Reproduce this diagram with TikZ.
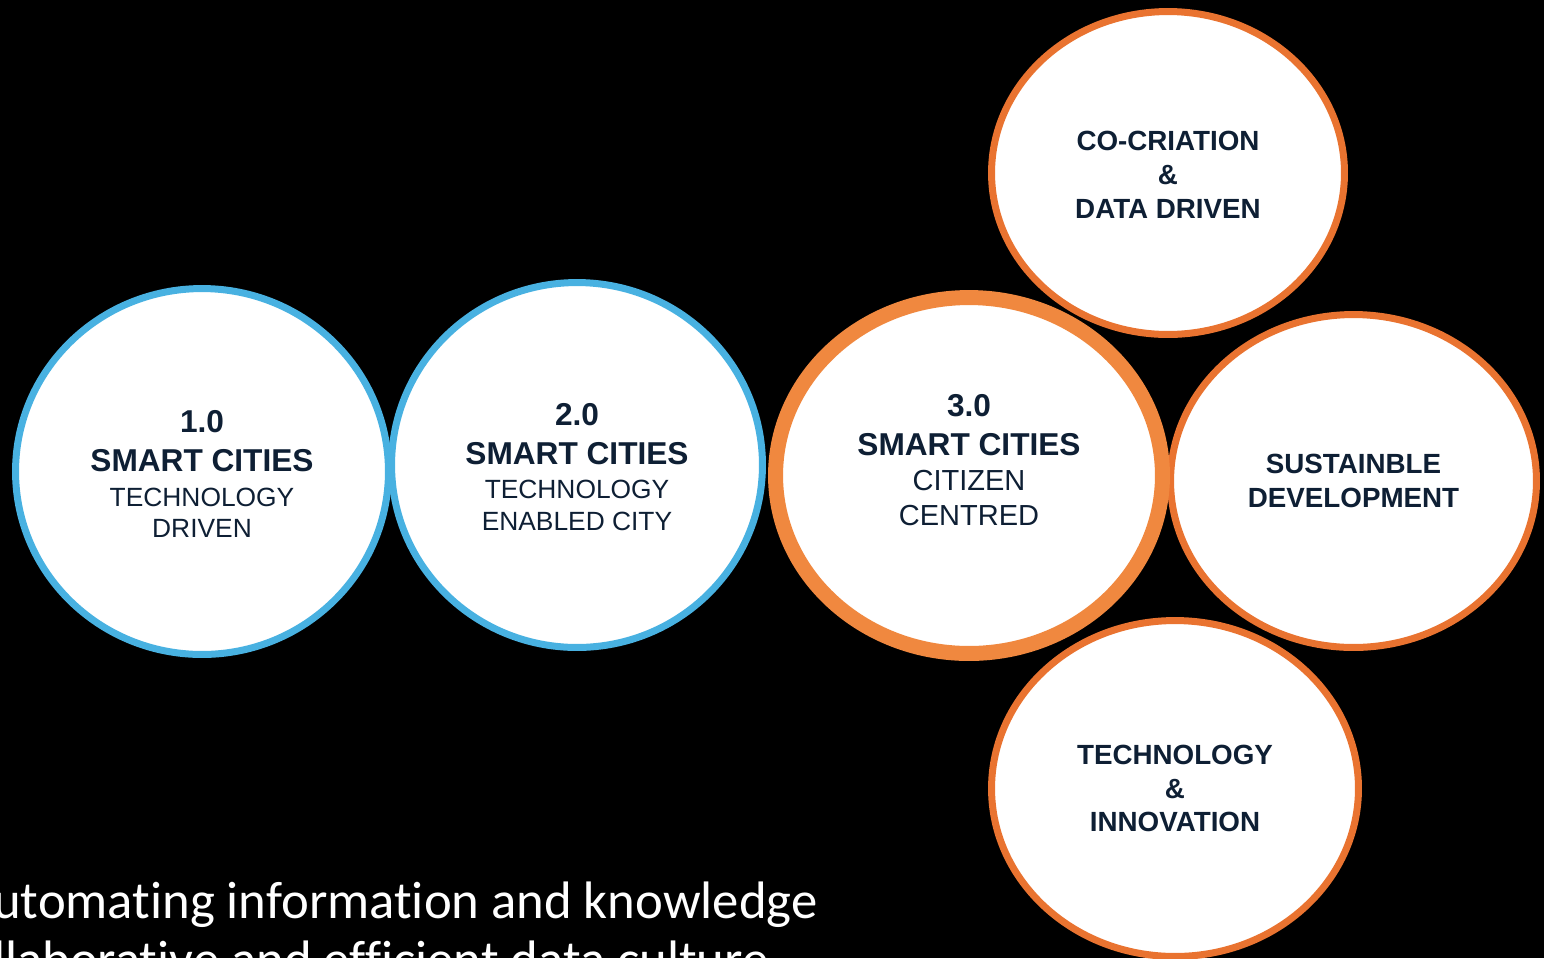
\documentclass[tikz,border=0pt]{standalone}
\usepackage{fontspec}
\setmainfont{Liberation Sans}
\newfontfamily\calibri[Ligatures={NoCommon,NoRare}]{Carlito}
\usetikzlibrary{shapes.geometric}
\definecolor{skyblue}{HTML}{48B1E1}
\definecolor{stageorange}{HTML}{F0883F}
\definecolor{satorange}{HTML}{E97330}
\definecolor{navy}{HTML}{0E1F34}
\newcommand{\ringhead}{\fontsize{18}{21.6}\selectfont\bfseries}
\tikzset{ring/.style={ellipse, draw=#1, fill=white, line width=0.14cm, inner sep=0pt},
         words/.style={align=center, text=navy, inner sep=0pt}}

\begin{document}
\begin{tikzpicture}[x=0.02cm, y=-0.02cm]
    \clip (0,0) rectangle (1544,958);
    \fill[black] (0,0) rectangle (1544,958);

    % the three around 3.0
    \node[ring=satorange, minimum width=7.06cm, minimum height=6.46cm] at (1168,173) (cocreation) {};
    \node[ring=satorange, minimum width=7.32cm, minimum height=6.66cm] at (1353.5,481) (sustain) {};
    \node[ring=satorange, minimum width=7.34cm, minimum height=6.72cm] at (1175,788.5) (techinno) {};

    % the stages
    \node[ring=skyblue, minimum width=7.46cm, minimum height=7.32cm] at (202,471.5) (stage1) {};
    \node[ring=skyblue, minimum width=7.42cm, minimum height=7.30cm] at (577,465) (stage2) {};
    \node[ring=stageorange, line width=0.3cm, minimum width=7.74cm, minimum height=7.12cm] at (969,475.5) (stage3) {};

    \node[words, font=\fontsize{15}{18}\selectfont] at ([yshift=-0.05cm]stage1) (text1)
        {\ringhead 1.0\\[4.1pt] \ringhead SMART CITIES\\[1.8pt] TECHNOLOGY\\ DRIVEN};
    \node[words, font=\fontsize{15}{18}\selectfont] at ([yshift=-0.04cm]stage2) (text2)
        {\ringhead 2.0\\[4.1pt] \ringhead SMART CITIES\\[1.8pt] TECHNOLOGY\\ ENABLED CITY};
    \node[words, font=\fontsize{16.5}{19.8}\selectfont] at (969,460) (text3)
        {\ringhead 3.0\\[2.3pt] \ringhead SMART CITIES\\ CITIZEN\\ CENTRED};

    \node[words, font=\fontsize{15.8}{19.3}\selectfont\bfseries] at ([yshift=-0.03cm]cocreation) (text4) {CO-CRIATION\\ \&\\ DATA DRIVEN};
    \node[words, font=\fontsize{15.8}{19.3}\selectfont\bfseries] at (sustain) (text5) {SUSTAINBLE\\ DEVELOPMENT};
    \node[words, font=\fontsize{15.8}{19.3}\selectfont\bfseries] at (techinno) (text6) {TECHNOLOGY\\ \&\\ INNOVATION};

    % bottom lines, cut by the frame
    \node[anchor=base east, inner sep=0pt, text=white, font=\calibri\fontsize{30}{36}\selectfont] at (818,918) (line1) {automating information and knowledge};
    \node[anchor=base east, inner sep=0pt, text=white, font=\calibri\fontsize{30}{36}\selectfont] at (769,977) (line2) {collaborative and efficient data culture};
\end{tikzpicture}
\end{document}
